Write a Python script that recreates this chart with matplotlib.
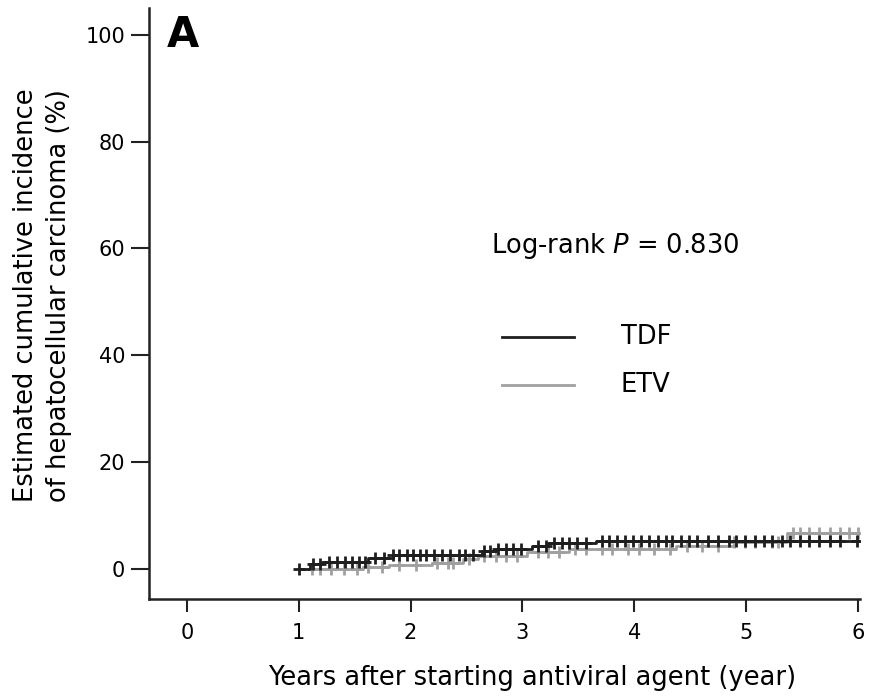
import numpy as np
from matplotlib import pyplot as plt

# step points of the cumulative incidence curves (year, %)
tdf_t = [1.00, 1.10, 1.21, 1.62, 1.84, 2.64, 2.76, 3.09, 3.23, 3.66, 6.00]
tdf_y = [0.0, 0.9, 1.4, 2.1, 2.6, 3.3, 3.7, 4.4, 4.8, 5.2, 5.2]
etv_t = [1.10, 1.57, 1.81, 2.19, 2.47, 2.60, 3.04, 3.42, 4.37, 4.89, 5.37, 6.01]
etv_y = [0.0, 0.4, 0.7, 1.2, 1.9, 2.5, 3.2, 3.7, 4.4, 5.1, 6.7, 6.7]

# censoring times
tdf_cens = [1.00, 1.13, 1.19, 1.27, 1.34, 1.41, 1.48, 1.54, 1.59, 1.68, 1.76,
            1.84, 1.90, 1.97, 2.02, 2.08, 2.14, 2.21, 2.28, 2.35, 2.43, 2.49,
            2.56, 2.66, 2.71, 2.78, 2.85, 2.92, 2.99, 3.14, 3.21, 3.28, 3.35,
            3.42, 3.49, 3.57, 3.71, 3.77, 3.85, 3.92, 3.99, 4.06, 4.13, 4.21,
            4.28, 4.34, 4.42, 4.49, 4.56, 4.66, 4.75, 4.85, 4.91, 4.99, 5.08,
            5.16, 5.23, 5.32, 5.39, 5.48, 5.56, 5.65, 5.75, 5.84, 5.99]
etv_cens = [1.12, 1.19, 1.29, 1.40, 1.52, 1.62, 1.74, 1.90, 2.05, 2.24, 2.33,
            2.38, 2.52, 2.66, 2.76, 2.85, 2.95, 3.14, 3.23, 3.33, 3.47, 3.57,
            3.71, 3.80, 3.94, 4.04, 4.18, 4.32, 4.47, 4.61, 4.75, 4.89, 4.99,
            5.08, 5.23, 5.29, 5.42, 5.48, 5.56, 5.65, 5.75, 5.84, 5.92, 6.00]

xticks = [0, 1, 2, 3, 4, 5, 6]
yticks = [0, 20, 40, 60, 80, 100]


def step_value(t, y, c):
    idx = np.searchsorted(t, c, side='right') - 1
    return np.array(y)[np.clip(idx, 0, len(y) - 1)]


fig = plt.figure(figsize=(8.9, 7), dpi=100)
ax = fig.add_axes([0.1674, 0.1443, 0.799, 0.8443])

etv_col = '#a0a0a0'
tdf_col = '#1e1e1e'
fs = 18.5

ax.step(etv_t, etv_y, where='post', color=etv_col, lw=2)
ax.plot(etv_cens, step_value(etv_t, etv_y, etv_cens), ls='none', marker='+',
        ms=9, mew=2, color=etv_col)
ax.step(tdf_t, tdf_y, where='post', color=tdf_col, lw=2)
ax.plot(tdf_cens, step_value(tdf_t, tdf_y, tdf_cens), ls='none', marker='+',
        ms=9, mew=2, color=tdf_col)

ax.set_xlim(-0.34, 6.02)
ax.set_ylim(-5.6, 105)
ax.set_xticks(xticks)
ax.set_yticks(yticks)
ax.tick_params(labelsize=15, width=1.5, color='#222222')
ax.tick_params(axis='y', length=13, pad=4)
ax.tick_params(axis='x', length=9.5, pad=8)
for s in ['top', 'right']:
    ax.spines[s].set_visible(False)
for s in ['left', 'bottom']:
    ax.spines[s].set_linewidth(1.8)
    ax.spines[s].set_color('#222222')

ax.set_xlabel('Years after starting antiviral agent (year)', fontsize=fs)
ax.xaxis.set_label_coords(0.539, -0.134)
ax.xaxis.label.set_va('center')
ax.set_ylabel('Estimated cumulative incidence\nof hepatocellular carcinoma (%)',
              fontsize=fs, linespacing=1.36)
ax.yaxis.set_label_coords(-0.15, 0.514)
ax.yaxis.label.set_va('center')

ax.text(-0.18, 100, 'A', fontsize=30, fontweight='bold', va='center', ha='left')
ax.text(2.72, 60.5, 'Log-rank $\\it{P}$ = 0.830', fontsize=fs, va='center')

ax.plot([2.82, 3.46], [43.4, 43.4], color=tdf_col, lw=2)
ax.plot([2.82, 3.46], [34.4, 34.4], color=etv_col, lw=2)
ax.text(3.88, 43.4, 'TDF', fontsize=fs, va='center')
ax.text(3.88, 34.4, 'ETV', fontsize=fs, va='center')

fig.savefig('out.png', dpi=100)
